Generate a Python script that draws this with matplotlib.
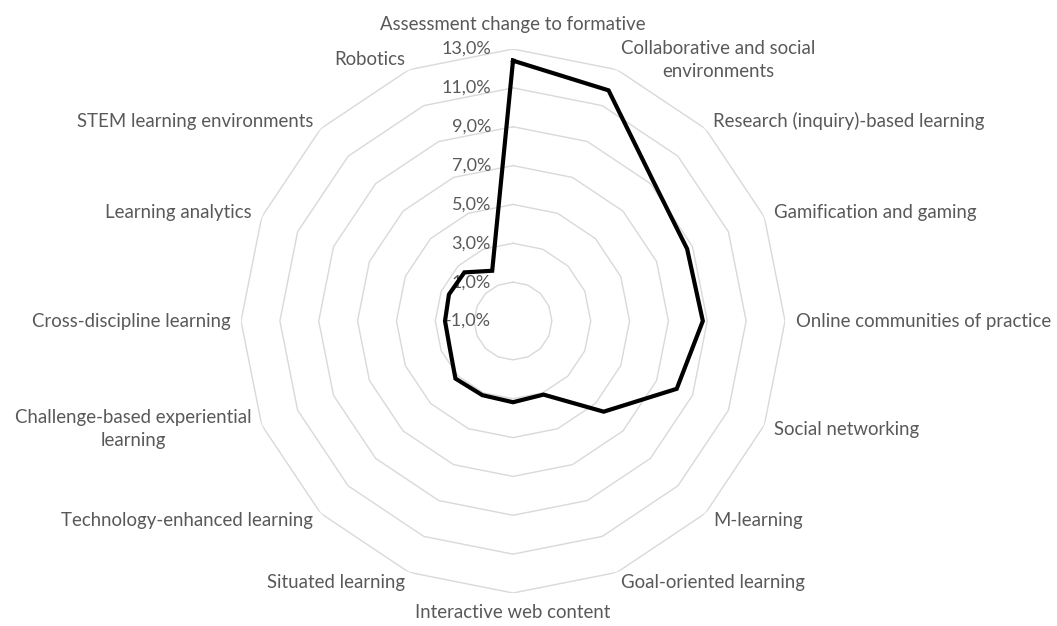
# radar chart: share of pedagogical trends
import matplotlib
matplotlib.use("Agg")
import matplotlib.pyplot as plt
import matplotlib.transforms as mtransforms
import numpy as np

categories = [
    "Assessment change to formative",
    "Collaborative and social\nenvironments",
    "Research (inquiry)-based learning",
    "Gamification and gaming",
    "Online communities of practice",
    "Social networking",
    "M-learning",
    "Goal-oriented learning",
    "Interactive web content",
    "Situated learning",
    "Technology-enhanced learning",
    "Challenge-based experiential\nlearning",
    "Cross-discipline learning",
    "Learning analytics",
    "STEM learning environments",
    "Robotics",
]
values = [12.4, 11.85, 9.2, 8.7, 8.77, 8.12, 5.6, 3.1,
          3.18, 3.13, 3.19, 2.53, 2.5, 2.57, 2.54, 1.8]
ring_values = [1, 3, 5, 7, 9, 11, 13]
tick_labels = ["-1,0%", "1,0%", "3,0%", "5,0%", "7,0%", "9,0%", "11,0%", "13,0%"]
tick_positions = [-1, 1, 3, 5, 7, 9, 11, 13]

plt.rcParams['font.family'] = ['Lato', 'DejaVu Sans']

def main():
    fig = plt.figure(figsize=(10.57, 6.26), dpi=100)
    ax = fig.add_axes([0.228, 0.0527, 0.5147, 0.869], projection='polar')
    ax.set_theta_zero_location('N')
    ax.set_theta_direction(-1)
    ax.set_rlim(-1, 13)
    ax.set_xticks([])
    ax.set_yticks([])
    ax.grid(False)
    ax.spines['polar'].set_visible(False)
    ax.patch.set_visible(False)

    n = len(categories)
    theta = np.arange(n) * 2 * np.pi / n
    closed = np.append(theta, theta[0])

    # polygon rings
    for rv in ring_values:
        ax.plot(closed, [rv] * (n + 1), color='#d9d9d9', lw=1.0, zorder=1)

    # data line
    ax.plot(closed, values + values[:1], color='black', lw=3.0,
            solid_joinstyle='miter', zorder=3)

    # radial tick labels
    off = mtransforms.offset_copy(ax.transData, fig=fig, x=-22, y=0, units='dots')
    for pos, lab in zip(tick_positions, tick_labels):
        ax.text(0, pos, lab, transform=off, ha='right', va='center',
                fontsize=13, color='#595959', zorder=2)

    # category labels
    label_r = 13.55
    for t, cat in zip(theta, categories):
        deg = np.degrees(t)
        if np.isclose(deg, 0):
            ha, va, r = 'center', 'bottom', label_r + 0.3
        elif np.isclose(deg, 180):
            ha, va, r = 'center', 'top', label_r
        elif deg < 180:
            ha, va, r = 'left', 'center', label_r
        else:
            ha, va, r = 'right', 'center', label_r
        ax.text(t, r, cat, ha=ha, va=va, multialignment='center',
                fontsize=13.4, color='#595959', clip_on=False, linespacing=1.45)

    fig.savefig('out.png', dpi=100, facecolor='white')

if __name__ == "__main__":
    main()
